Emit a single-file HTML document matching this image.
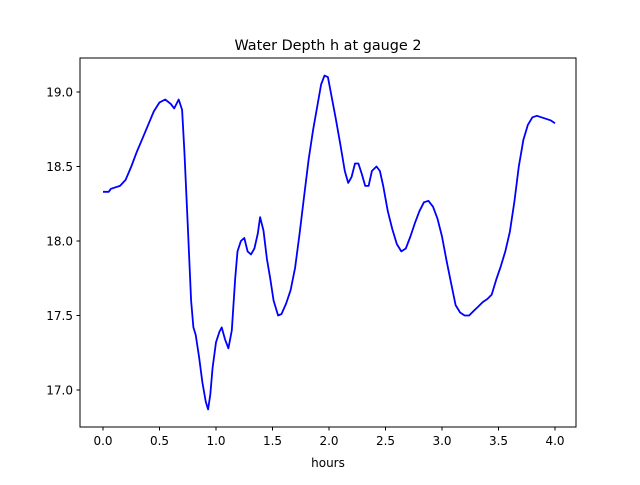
<!DOCTYPE html>
<html><head><meta charset="utf-8"><style>
body{margin:0;background:#fff;font-family:"Liberation Sans","DejaVu Sans",sans-serif}
svg text{font-family:"DejaVu Sans","Liberation Sans",sans-serif;fill:#000}
</style></head><body>
<svg id="chart" width="640" height="480">
<rect width="640" height="480" fill="#fff"/>
<text x="328" y="50" font-size="14.4" text-anchor="middle">Water Depth h at gauge 2</text>
<g id="xticks"></g><g id="yticks"></g>
<path id="line" fill="none" stroke="#0000ff" stroke-width="1.8" stroke-linejoin="round"/>
<rect x="80" y="58" width="496" height="369" fill="none" stroke="#000" stroke-width="1"/>
<text x="328" y="467" font-size="12" text-anchor="middle">hours</text>
</svg>
<script>
const hours=[0,0.05,0.07,0.15,0.2,0.25,0.3,0.35,0.4,0.45,0.5,0.55,0.6,0.63,0.67,0.7,0.72,0.75,0.78,0.8,0.82,0.85,0.88,0.91,0.93,0.95,0.97,1.0,1.03,1.05,1.08,1.11,1.14,1.17,1.19,1.22,1.25,1.28,1.31,1.34,1.37,1.39,1.42,1.45,1.48,1.51,1.55,1.58,1.62,1.66,1.7,1.74,1.78,1.82,1.86,1.9,1.93,1.96,1.99,2.02,2.06,2.1,2.14,2.17,2.2,2.23,2.26,2.29,2.32,2.35,2.38,2.42,2.45,2.48,2.52,2.56,2.6,2.64,2.68,2.72,2.76,2.8,2.84,2.88,2.92,2.96,3.0,3.04,3.08,3.12,3.16,3.2,3.24,3.28,3.32,3.36,3.4,3.44,3.48,3.52,3.56,3.6,3.64,3.68,3.72,3.76,3.8,3.84,3.88,3.92,3.96,4.0];
const depth=[18.33,18.33,18.35,18.37,18.41,18.5,18.6,18.69,18.78,18.87,18.93,18.95,18.92,18.89,18.95,18.88,18.6,18.1,17.6,17.42,17.37,17.22,17.05,16.92,16.87,16.97,17.15,17.32,17.39,17.42,17.34,17.28,17.4,17.75,17.93,18.0,18.02,17.93,17.91,17.95,18.05,18.16,18.07,17.88,17.75,17.6,17.5,17.51,17.58,17.67,17.82,18.05,18.3,18.55,18.75,18.92,19.05,19.11,19.1,18.98,18.82,18.65,18.47,18.39,18.43,18.52,18.52,18.45,18.37,18.37,18.47,18.5,18.47,18.37,18.2,18.08,17.98,17.93,17.95,18.03,18.12,18.2,18.26,18.27,18.23,18.15,18.03,17.87,17.72,17.57,17.52,17.5,17.5,17.53,17.56,17.59,17.61,17.64,17.74,17.83,17.93,18.06,18.26,18.5,18.68,18.78,18.83,18.84,18.83,18.82,18.81,18.79];
const xTicks=[0,0.5,1,1.5,2,2.5,3,3.5,4];
const yTicks=[17,17.5,18,18.5,19];
const X=v=>103+v*113;
const Y=v=>92+(19-v)*149;
const NS="http://www.w3.org/2000/svg";
let d="";hours.forEach((h,i)=>{d+=(i?"L":"M")+X(h).toFixed(1)+","+Y(depth[i]).toFixed(1);});
document.getElementById("line").setAttribute("d",d);
const xg=document.getElementById("xticks"),yg=document.getElementById("yticks");
xTicks.forEach(t=>{const l=document.createElementNS(NS,"line");


l.setAttribute("x1",X(t));l.setAttribute("x2",X(t));l.setAttribute("y1",427);l.setAttribute("y2",430.5);l.setAttribute("stroke","#000");xg.appendChild(l);
const tx=document.createElementNS(NS,"text");


tx.setAttribute("x",X(t));tx.setAttribute("y",445);tx.setAttribute("font-size","12");tx.setAttribute("text-anchor","middle");tx.textContent=t.toFixed(1);xg.appendChild(tx);});
yTicks.forEach(t=>{const l=document.createElementNS(NS,"line");


l.setAttribute("x1",76.5);l.setAttribute("x2",80);l.setAttribute("y1",Y(t));l.setAttribute("y2",Y(t));l.setAttribute("stroke","#000");yg.appendChild(l);
const tx=document.createElementNS(NS,"text");


tx.setAttribute("x",73);tx.setAttribute("y",Y(t)+4.5);tx.setAttribute("font-size","12");tx.setAttribute("text-anchor","end");tx.textContent=t.toFixed(1);yg.appendChild(tx);});
</script>
</body></html>
